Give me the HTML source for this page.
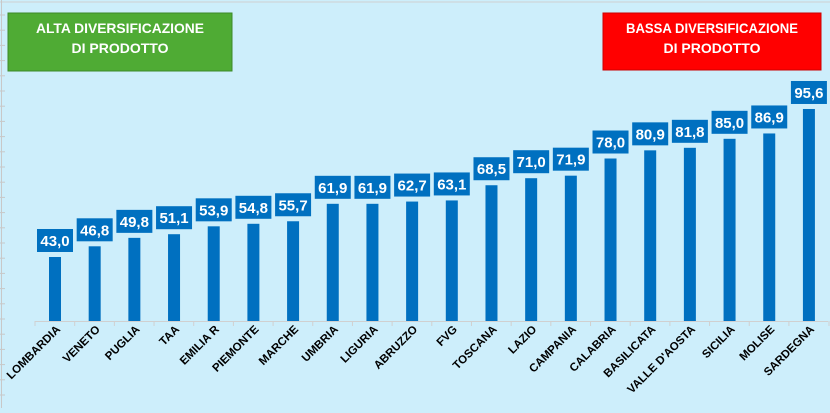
<!DOCTYPE html>
<html><head><style>
body{margin:0;width:830px;height:408px;overflow:hidden;background:#cdeefb;}
</style></head><body>
<svg width="830" height="408" xmlns="http://www.w3.org/2000/svg" font-family="Liberation Sans, sans-serif">
<rect width="830" height="408" fill="#cdeefb"/>
<line x1="0" y1="2" x2="830" y2="2" stroke="#d0d0d0"/>
<line x1="1.5" y1="0" x2="1.5" y2="408" stroke="#c8c8c8"/>
<g id="g"></g>
<rect x="8" y="13" width="224" height="58" fill="#4fab34" stroke="#3c8a28"/>
<text x="120" y="33" fill="#fff" font-weight="bold" font-size="14" text-anchor="middle" textLength="168" lengthAdjust="spacingAndGlyphs">ALTA DIVERSIFICAZIONE</text>
<text x="120" y="53" fill="#fff" font-weight="bold" font-size="14" text-anchor="middle">DI PRODOTTO</text>
<rect x="603" y="13" width="218" height="57" fill="#ff0000" stroke="#c00"/>
<text x="712" y="33" fill="#fff" font-weight="bold" font-size="14" text-anchor="middle" textLength="172" lengthAdjust="spacingAndGlyphs">BASSA DIVERSIFICAZIONE</text>
<text x="712" y="53" fill="#fff" font-weight="bold" font-size="14" text-anchor="middle">DI PRODOTTO</text>
</svg>
<script>
var d=[["LOMBARDIA",43.0],["VENETO",46.8],["PUGLIA",49.8],["TAA",51.1],["EMILIA R",53.9],["PIEMONTE",54.8],["MARCHE",55.7],["UMBRIA",61.9],["LIGURIA",61.9],["ABRUZZO",62.7],["FVG",63.1],["TOSCANA",68.5],["LAZIO",71.0],["CAMPANIA",71.9],["CALABRIA",78.0],["BASILICATA",80.9],["VALLE D'AOSTA",81.8],["SICILIA",85.0],["MOLISE",86.9],["SARDEGNA",95.6]];
var s='';
for(var y=15;y<408;y+=15.2)s+='<line x1="0" x2="5" y1="'+y+'" y2="'+y+'" stroke="#c8c8c8"/>';
s+='<line x1="35" x2="828" y1="321.5" y2="321.5" stroke="#d0d0d0"/>';
d.forEach(function(e,i){var c=55+i*39.68,t=378-2.814*e[1];
s+='<line x1="'+(c-20)+'" x2="'+(c-20)+'" y1="321" y2="326" stroke="#d0d0d0"/>';
s+='<rect x="'+(c-6)+'" y="'+t+'" width="12" height="'+(321-t)+'" fill="#0070c0"/>';
s+='<rect x="'+(c-18)+'" y="'+(t-28)+'" width="36" height="23" fill="#0070c0"/>';
s+='<text x="'+c+'" y="'+(t-11)+'" fill="#fff" font-weight="bold" font-size="15" text-anchor="middle">'+e[1].toFixed(1).replace('.',',')+'</text>';
s+='<text transform="translate('+(c+6)+',330) rotate(-45)" font-weight="bold" font-size="11.5" text-anchor="end" fill="#000">'+e[0]+'</text>';});
s+='<line x1="829" x2="829" y1="321" y2="326" stroke="#d0d0d0"/>';
document.getElementById('g').innerHTML=s;
</script>
</body></html>
